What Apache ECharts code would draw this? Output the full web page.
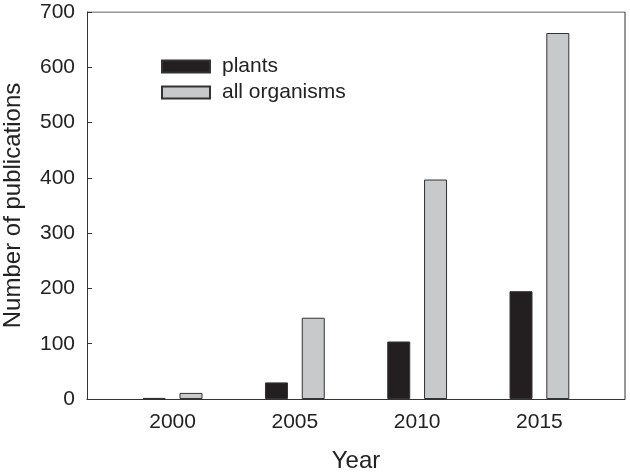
<!DOCTYPE html>
<html>
<head>
<meta charset="utf-8">
<script src="https://cdn.jsdelivr.net/npm/echarts@6/dist/echarts.min.js"></script>
<style>
html,body{margin:0;padding:0;background:#fff;}
#chart{width:630px;height:474px;}
</style>
</head>
<body>
<div id="chart"></div>
<script>
// 数据
var years = [2000, 2005, 2010, 2015];
var plants = [2, 30, 104, 195];
var allOrganisms = [11, 147, 397, 662];
var yTicks = [0, 100, 200, 300, 400, 500, 600, 700];

function pairs(vals){
    return vals.map(function(v, i){ return [years[i], v]; });
}

var myChart = echarts.init(document.getElementById('chart'));
var font = 'Liberation Sans, Arial, sans-serif';
var option = {
    animation: false,
    grid: {
        left: 87,
        right: 5,
        top: 12,
        bottom: 75,
        containLabel: false,
        outerBoundsMode: 'none'
    },
    legend: {
        orient: 'vertical',
        left: 161,
        top: 56,
        padding: 0,
        itemWidth: 48,
        itemHeight: 12,
        itemGap: 5,
        icon: 'rect',
        textStyle: { fontFamily: font, fontSize: 21, lineHeight: 21, color: '#222', padding: [0, 0, 0, 7] },
        data: ['plants', 'all organisms']
    },
    xAxis: {
        type: 'value',
        min: 1996.5,
        max: 2018.5,
        interval: 0.5,
        name: 'Year',
        nameLocation: 'middle',
        nameGap: 50,
        nameTextStyle: { fontFamily: font, fontSize: 24, color: '#222' },
        splitLine: { show: false },
        axisTick: { show: false },
        axisLine: { lineStyle: { color: '#333', width: 1 } },
        axisLabel: {
            fontFamily: font, fontSize: 21, color: '#222', margin: 13,
            showMinLabel: true, showMaxLabel: true,
            formatter: function(value){
                return years.indexOf(value) >= 0 ? String(value) : '';
            }
        }
    },
    yAxis: {
        type: 'value',
        min: yTicks[0],
        max: yTicks[yTicks.length - 1],
        interval: 100,
        name: 'Number of publications',
        nameLocation: 'middle',
        nameGap: 62,
        nameTextStyle: { fontFamily: font, fontSize: 24, color: '#222' },
        splitLine: { show: false },
        axisLine: { show: true, lineStyle: { color: '#333', width: 1 } },
        axisTick: { show: true, inside: true, length: 5, lineStyle: { color: '#333' } },
        axisLabel: { fontFamily: font, fontSize: 21, color: '#222', margin: 12 }
    },
    series: [{
        name: 'plants',
        type: 'bar',
        data: pairs(plants),
        barWidth: 23,
        barGap: '60%',
        itemStyle: { color: '#231f20', borderColor: '#333', borderWidth: 1 }
    }, {
        name: 'all organisms',
        type: 'bar',
        data: pairs(allOrganisms),
        barWidth: 23,
        barGap: '60%',
        itemStyle: { color: '#c8c9cb', borderColor: '#333', borderWidth: 1 }
    }, {
        // 边框（上、右）
        type: 'line',
        data: [[1996.5, 700], [2018.5, 700], [2018.5, 0]],
        symbol: 'none',
        silent: true,
        lineStyle: { color: '#333', width: 1 },
        z: 1
    }]
};
myChart.setOption(option);
</script>
</body>
</html>
